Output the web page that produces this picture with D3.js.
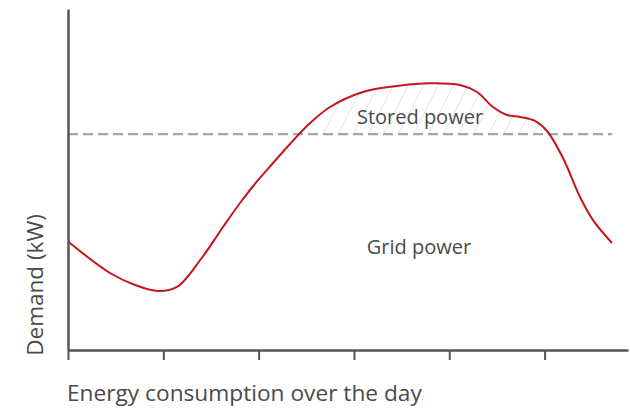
<!DOCTYPE html>
<html>
<head>
<meta charset="utf-8">
<script src="https://cdn.jsdelivr.net/npm/d3@7"></script>
<style>
  body { margin: 0; background: #fff; }
  text { font-family: 'Open Sans', sans-serif; fill: #4a4a4a; }
</style>
</head>
<body>
<svg id="chart" width="630" height="410"></svg>
<script>
// hour of the day
const hours = [0, 1.762, 2.812, 3.777, 4.574, 5.611, 6.504, 7.218, 7.919, 8.603, 9.316, 10.071,
  10.994, 12.379, 13.806, 15.191, 16.45, 17.163, 17.835, 18.422, 18.968, 19.597, 20.101,
  20.772, 21.486, 22.031, 22.829];
// demand (arbitrary kW units)
const demand = [31.82, 22.58, 19.06, 17.3, 18.48, 26.98, 36.07, 43.11, 49.35, 54.84, 60.41, 65.98,
  71.26, 75.66, 77.42, 78.21, 77.71, 75.66, 71.26, 68.91, 68.33, 67.16, 64.22,
  56.3, 44.87, 38.1, 31.38];
const threshold = 63.3;
const tickHours = [0, 4, 8, 12, 16, 20];

const data = hours.map((h, i) => ({ hour: h, value: demand[i] }));

const width = 630;
const height = 410;
const margin = { top: 9, right: 2, bottom: 60, left: 68 };

const svg = d3.select('#chart');

const x = d3.scaleLinear().domain([0, 23.5]).range([margin.left, width - margin.right]);
const y = d3.scaleLinear().domain([0, 100]).range([height - margin.bottom, margin.top]);

// hatch pattern
const defs = svg.append('defs');
defs
  .append('pattern')
  .attr('id', 'hatch')
  .attr('patternUnits', 'userSpaceOnUse')
  .attr('width', 13.4)
  .attr('height', 13.4)
  .attr('patternTransform', 'rotate(27)')
  .append('line')
  .attr('x1', 0)
  .attr('x2', 0)
  .attr('y1', 0)
  .attr('y2', 13.4)
  .attr('stroke', '#d6d6d6')
  .attr('stroke-width', 1.2);

defs
  .append('clipPath')
  .attr('id', 'above')
  .append('rect')
  .attr('x', margin.left)
  .attr('y', 0)
  .attr('width', width)
  .attr('height', y(threshold));

const curve = d3.curveCatmullRom.alpha(0.5);

svg
  .append('path')
  .datum(data)
  .attr('clip-path', 'url(#above)')
  .attr('fill', 'url(#hatch)')
  .attr(
    'd',
    d3
      .area()
      .curve(curve)
      .x((d) => x(d.hour))
      .y0(y(threshold))
      .y1((d) => y(d.value))
  );

// threshold line
svg
  .append('line')
  .attr('x1', x(0))
  .attr('x2', x(hours[hours.length - 1]))
  .attr('y1', y(threshold))
  .attr('y2', y(threshold))
  .attr('stroke', '#a5a5a5')
  .attr('stroke-width', 2.2)
  .attr('stroke-dasharray', '10,5');

// demand curve
svg
  .append('path')
  .datum(data)
  .attr('fill', 'none')
  .attr('stroke', '#c4161c')
  .attr('stroke-width', 2)
  .attr(
    'd',
    d3
      .line()
      .curve(curve)
      .x((d) => x(d.hour))
      .y((d) => y(d.value))
  );

// axes
svg
  .append('g')
  .attr('transform', `translate(0,${y(0)})`)
  .call(d3.axisBottom(x).tickValues(tickHours).tickSize(10).tickSizeOuter(0).tickFormat(''))
  .call((g) => g.select('.domain').attr('stroke', '#555').attr('stroke-width', 2.5))
  .call((g) => g.selectAll('.tick line').attr('stroke', '#555').attr('stroke-width', 2));

svg
  .append('g')
  .attr('transform', `translate(${x(0)},0)`)
  .call(d3.axisLeft(y).tickValues([]).tickSizeOuter(0))
  .call((g) => g.select('.domain').attr('stroke', '#555').attr('stroke-width', 2.5));

// labels
svg
  .append('text')
  .attr('x', 420)
  .attr('y', 124)
  .attr('text-anchor', 'middle')
  .attr('font-size', 20)
  .text('Stored power');

svg
  .append('text')
  .attr('x', 419)
  .attr('y', 254)
  .attr('text-anchor', 'middle')
  .attr('font-size', 20)
  .text('Grid power');

svg
  .append('text')
  .attr('x', 67)
  .attr('y', 401)
  .attr('font-size', 22.7)
  .text('Energy consumption over the day');

svg
  .append('text')
  .attr('transform', 'translate(43,285) rotate(-90)')
  .attr('text-anchor', 'middle')
  .attr('font-size', 22.5)
  .text('Demand (kW)');
</script>
</body>
</html>
